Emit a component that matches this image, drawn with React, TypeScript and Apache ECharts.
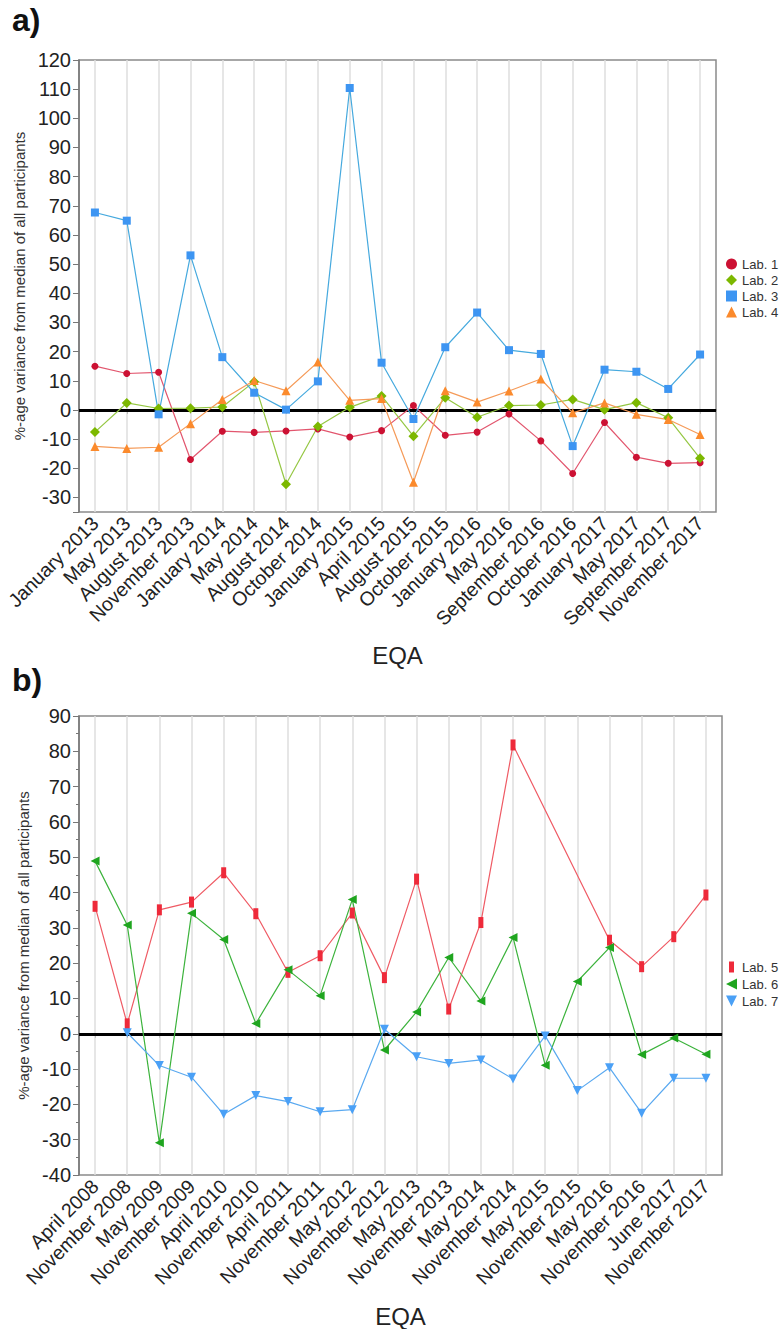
import React, { useEffect, useRef } from "react";
import * as echarts from "echarts";

const catsA = [
  "January 2013", "May 2013", "August 2013", "November 2013", "January 2014",
  "May 2014", "August 2014", "October 2014", "January 2015", "April 2015",
  "August 2015", "October 2015", "January 2016", "May 2016", "September 2016",
  "October 2016", "January 2017", "May 2017", "September 2017", "November 2017",
];
const lab1 = [15.0, 12.5, 12.9, -17.0, -7.3, -7.7, -7.2, -6.5, -9.3, -7.1, 1.5, -8.7, -7.6, -1.4, -10.6, -21.8, -4.3, -16.2, -18.3, -18.1];
const lab2 = [-7.6, 2.4, 0.5, 0.6, 1.0, 9.7, -25.5, -5.7, 0.9, 4.8, -9.0, 4.2, -2.5, 1.5, 1.7, 3.6, 0.1, 2.5, -2.7, -16.6];
const lab3 = [67.7, 64.9, -1.5, 53.0, 18.1, 5.9, 0.1, 9.8, 110.4, 16.2, -3.1, 21.5, 33.4, 20.5, 19.2, -12.4, 13.8, 13.1, 7.2, 19.0];
const lab4 = [-12.5, -13.2, -12.8, -4.7, 3.6, 10.1, 6.6, 16.4, 3.3, 3.9, -24.8, 6.6, 2.7, 6.5, 10.6, -1.0, 2.4, -1.5, -3.3, -8.4];
const yTicksA = [-30, -20, -10, 0, 10, 20, 30, 40, 50, 60, 70, 80, 90, 100, 110, 120];

const catsB = [
  "April 2008", "November 2008", "May 2009", "November 2009", "April 2010",
  "November 2010", "April 2011", "November 2011", "May 2012", "November 2012",
  "May 2013", "November 2013", "May 2014", "November 2014", "May 2015",
  "November 2015", "May 2016", "November 2016", "June 2017", "November 2017",
];
const lab5 = [36.1, 2.8, 35.1, 37.3, 45.6, 34.0, 17.4, 22.1, 34.2, 15.9, 43.8, 7.0, 31.5, 81.8, null, null, 26.5, 19.0, 27.5, 39.3];
const lab6 = [48.9, 30.8, -30.9, 34.1, 26.7, 2.9, 18.1, 10.8, 38.0, -4.6, 6.2, 21.6, 9.3, 27.3, -8.9, 14.8, 24.4, -5.9, -1.2, -5.8];
const lab7 = [null, 0.3, -9.0, -12.3, -22.8, -17.5, -19.2, -22.1, -21.5, 1.3, -6.5, -8.4, -7.4, -12.8, -0.6, -16.1, -9.6, -22.5, -12.6, -12.6];

const FONT = "Liberation Sans";
const LEFT_TRI = "path://M0,5L10,0L10,10Z";
const DOWN_TRI = "path://M0,0L10,0L5,10Z";
const TALL_RECT = "path://M0,0L5,0L5,11L0,11Z";

const zeroLine = {
  silent: true,
  symbol: "none",
  label: { show: false },
  lineStyle: { color: "#000", width: 3, type: "solid" },
  data: [{ yAxis: 0 }],
  z: 1,
};

function mkSeries(name, data, xi, symbol, size, color, lineColor, extra = {}) {
  return {
    name,
    type: "line",
    xAxisIndex: xi,
    yAxisIndex: xi,
    data,
    symbol,
    symbolSize: size,
    connectNulls: true,
    itemStyle: { color, borderWidth: 0 },
    lineStyle: { color: lineColor, width: 1.2 },
    z: 3,
    ...extra,
  };
}

function xAxisCommon(cats, gridIndex, nameGap) {
  return {
    type: "category",
    gridIndex,
    data: cats,
    boundaryGap: true,
    name: "EQA",
    nameLocation: "middle",
    nameGap,
    nameTextStyle: { fontFamily: FONT, fontSize: 24, color: "#222" },
    axisLine: { show: true, lineStyle: { color: "#777", width: 1.5 } },
    axisTick: { show: true, alignWithLabel: true, length: 4, lineStyle: { color: "#bbb" } },
    axisLabel: {
      interval: 0,
      rotate: 45,
      fontFamily: FONT,
      fontSize: 19.5,
      color: "#222",
      margin: 8,
    },
    splitLine: { show: true, alignWithLabel: true, lineStyle: { color: "#dedede", width: 1.5 } },
  };
}

const yName = "%-age variance from median of all participants";

export default function App() {
  const ref = useRef(null);
  useEffect(() => {
    const chart = echarts.init(ref.current, null, { renderer: "svg" });
    const option = {
      animation: false,
      backgroundColor: "#fff",
      graphic: [
        { type: "text", left: 12, top: 4, style: { text: "a)", font: `bold 32px ${FONT}`, fill: "#111" } },
        { type: "text", left: 12, top: 664, style: { text: "b)", font: `bold 32px ${FONT}`, fill: "#111" } },
      ],
      grid: [
        { left: 79, top: 60, width: 637, height: 452, show: true, borderColor: "#8a8a8a", borderWidth: 1.5, containLabel: false },
        { left: 79, top: 716, width: 643, height: 459, show: true, borderColor: "#8a8a8a", borderWidth: 1.5, containLabel: false },
      ],
      legend: [
        {
          orient: "vertical",
          left: 726,
          top: 257.5,
          padding: 0,
          itemWidth: 11,
          itemHeight: 11,
          itemGap: 3,
          textStyle: { fontFamily: FONT, fontSize: 13, color: "#333" },
          data: [
            { name: "Lab. 1", icon: "circle" },
            { name: "Lab. 2", icon: "diamond" },
            { name: "Lab. 3", icon: "rect" },
            { name: "Lab. 4", icon: "triangle" },
          ],
        },
        {
          orient: "vertical",
          left: 726,
          top: 960.5,
          padding: 0,
          itemWidth: 11,
          itemHeight: 11,
          itemGap: 4,
          textStyle: { fontFamily: FONT, fontSize: 13, color: "#333" },
          data: [
            { name: "Lab. 5", icon: TALL_RECT },
            { name: "Lab. 6", icon: LEFT_TRI },
            { name: "Lab. 7", icon: DOWN_TRI },
          ],
        },
      ],
      xAxis: [xAxisCommon(catsA, 0, 131), xAxisCommon(catsB, 1, 129)],
      yAxis: [
        {
          type: "value",
          gridIndex: 0,
          min: -35,
          max: 120,
          splitNumber: 15,
          name: yName,
          nameLocation: "middle",
          nameGap: 46,
          nameTextStyle: { fontFamily: FONT, fontSize: 15, color: "#333" },
          axisLine: { show: true, lineStyle: { color: "#777", width: 1.5 } },
          axisTick: { show: true, length: 6, lineStyle: { color: "#777" } },
          axisLabel: {
            fontFamily: FONT,
            fontSize: 20,
            color: "#222",
            margin: 8,
            formatter: (v) => (yTicksA.indexOf(v) >= 0 ? String(v) : ""),
          },
          splitLine: { show: false },
        },
        {
          type: "value",
          gridIndex: 1,
          min: -40,
          max: 90,
          interval: 10,
          name: yName,
          nameLocation: "middle",
          nameGap: 41,
          nameTextStyle: { fontFamily: FONT, fontSize: 15, color: "#333" },
          axisLine: { show: true, lineStyle: { color: "#777", width: 1.5 } },
          axisTick: { show: true, length: 6, lineStyle: { color: "#777" } },
          minorTick: { show: true, splitNumber: 2, length: 3, lineStyle: { color: "#777" } },
          axisLabel: { fontFamily: FONT, fontSize: 20, color: "#222", margin: 8 },
          splitLine: { show: false },
        },
      ],
      series: [
        mkSeries("Lab. 1", lab1, 0, "circle", 7, "#cc1133", "#e2566e", { markLine: zeroLine }),
        mkSeries("Lab. 2", lab2, 0, "diamond", 10, "#7cb800", "#95c743"),
        mkSeries("Lab. 3", lab3, 0, "rect", 8, "#3d95f2", "#45a9de"),
        mkSeries("Lab. 4", lab4, 0, "triangle", 9, "#fb8a2c", "#f59a58"),
        mkSeries("Lab. 5", lab5, 1, TALL_RECT, [5, 11], "#ee2a3a", "#ef5a64", { markLine: zeroLine }),
        mkSeries("Lab. 6", lab6, 1, LEFT_TRI, 9, "#1fa51f", "#3cb33c"),
        mkSeries("Lab. 7", lab7, 1, DOWN_TRI, 9, "#4aa0f6", "#5aa9f0"),
      ],
    };
    chart.setOption(option);
    return () => chart.dispose();
  }, []);
  return (
    <div
      ref={ref}
      style={{ position: "absolute", left: 0, top: 0, width: 780, height: 1329 }}
    />
  );
}
